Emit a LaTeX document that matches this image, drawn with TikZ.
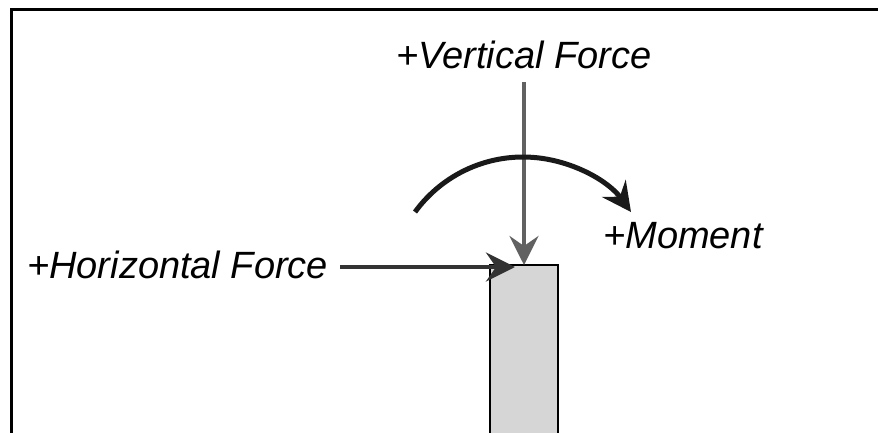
\documentclass[tikz,border=0pt]{standalone}
\usepackage{fontspec}
\setmainfont{Liberation Sans}
\usetikzlibrary{arrows.meta}
\begin{document}
\begin{tikzpicture}[x=1pt,y=-1pt,
  lbl/.style={inner sep=0pt,font=\fontsize{38}{42}\selectfont\itshape},
  tipa/.style={-{Stealth[length=29pt,width=29pt,inset=10pt]}},
  frameline/.style={line width=3pt,black},
  colbox/.style={fill=black!16,draw=black,line width=1.5pt}]
\useasboundingbox (0,0) rectangle (878,432);
% frame (top and left only)
\draw[frameline] (11,440) -- (11,9) -- (890,9);
% column
\draw[colbox] (490,440) rectangle (558,265);
\coordinate (coltop) at (524,265);
\coordinate (colleft) at (515,267);
% labels
\node[lbl,anchor=base west] (vert) at (396,68) {+Vertical Force};
\node[lbl,anchor=base west] (horiz) at (27,278) {+Horizontal Force};
\node[lbl,anchor=base west] (mom) at (603,248) {+Moment};
\coordinate (vstart) at (524,82);
\coordinate (hstart) at (340,267);
% vertical force
\draw[tipa,line width=4pt,black!62] (vstart) -- (coltop);
% horizontal force
\draw[tipa,line width=4.5pt,black!80] (hstart) -- (colleft);
% moment arc
\coordinate (arcc) at (523,290.5);
\draw[tipa,line width=5pt,black!90] ([shift={(-144:133.5)}]arcc) arc[start angle=-144,end angle=-36,radius=133.5];
\end{tikzpicture}
\end{document}
